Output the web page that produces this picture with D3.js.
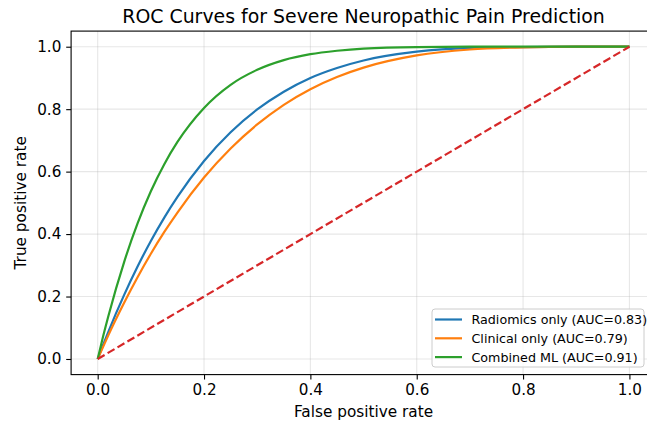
<!DOCTYPE html>
<html>
<head>
<meta charset="utf-8">
<script src="https://cdn.jsdelivr.net/npm/d3@7"></script>
<style>
  body { margin: 0; background: #fff; }
  svg { display: block; font-family: "DejaVu Sans", sans-serif; }
</style>
</head>
<body>
<div id="chart"></div>
<script>
// Width and height
var w = 647;
var h = 427;

// chart data
var fpr = [0, 0.01, 0.02, 0.05, 0.075, 0.1, 0.125, 0.15, 0.2, 0.25, 0.3, 0.35, 0.4, 0.45, 0.5, 0.6, 0.7, 0.8, 0.9, 1.0];
var tprRadiomics = [0, 0.044, 0.087, 0.206, 0.296, 0.378, 0.452, 0.519, 0.634, 0.726, 0.799, 0.856, 0.900, 0.932, 0.956, 0.984, 0.996, 0.999, 1.0, 1.0];
var tprClinical  = [0, 0.038, 0.076, 0.181, 0.262, 0.337, 0.406, 0.469, 0.581, 0.674, 0.751, 0.814, 0.864, 0.903, 0.933, 0.972, 0.991, 0.998, 1.0, 1.0];
var tprCombined  = [0, 0.071, 0.137, 0.312, 0.434, 0.537, 0.623, 0.695, 0.804, 0.878, 0.926, 0.957, 0.976, 0.987, 0.994, 0.999, 1.0, 1.0, 1.0, 1.0];
var chanceLine = [[0, 0], [1, 1]];

var seriesNames = ["Radiomics only (AUC=0.83)", "Clinical only (AUC=0.79)", "Combined ML (AUC=0.91)"];
var seriesColors = ["#1f77b4", "#ff7f0e", "#2ca02c"];
var ticks = [0, 0.2, 0.4, 0.6, 0.8, 1.0];

var titleText = "ROC Curves for Severe Neuropathic Pain Prediction";
var xLabel = "False positive rate";
var yLabel = "True positive rate";

// axes box (right edge runs off the canvas, like the reference)
var margin = {left: 71.1, top: 31.1, right: 656, bottom: 374.6};

var x = d3.scaleLinear().domain([-0.05, 1.05]).range([margin.left, margin.right]);
var y = d3.scaleLinear().domain([-0.05, 1.05]).range([margin.bottom, margin.top]);

var svg = d3.select("#chart")
  .append("svg")
  .attr("width", w)
  .attr("height", h);

// grid
svg.selectAll(".xgrid")
  .data(ticks)
  .enter()
  .append("line")
  .attr("x1", function(d) { return x(d); })
  .attr("x2", function(d) { return x(d); })
  .attr("y1", margin.top)
  .attr("y2", margin.bottom)
  .attr("stroke", "#b0b0b0")
  .attr("stroke-opacity", 0.3)
  .attr("stroke-width", 1.1);

svg.selectAll(".ygrid")
  .data(ticks)
  .enter()
  .append("line")
  .attr("x1", margin.left)
  .attr("x2", margin.right)
  .attr("y1", function(d) { return y(d); })
  .attr("y2", function(d) { return y(d); })
  .attr("stroke", "#b0b0b0")
  .attr("stroke-opacity", 0.3)
  .attr("stroke-width", 1.1);

// curves
var line = d3.line()
  .x(function(d) { return x(d[0]); })
  .y(function(d) { return y(d[1]); })
  .curve(d3.curveMonotoneX);

var series = [tprRadiomics, tprClinical, tprCombined].map(function(tpr) {
  return fpr.map(function(f, i) { return [f, tpr[i]]; });
});

svg.selectAll(".roc")
  .data(series)
  .enter()
  .append("path")
  .attr("class", "roc")
  .attr("d", line)
  .attr("fill", "none")
  .attr("stroke", function(d, i) { return seriesColors[i]; })
  .attr("stroke-width", 2.2);

// chance diagonal
svg.append("path")
  .datum(chanceLine)
  .attr("d", d3.line().x(function(d) { return x(d[0]); }).y(function(d) { return y(d[1]); }))
  .attr("fill", "none")
  .attr("stroke", "#d62728")
  .attr("stroke-width", 2.2)
  .attr("stroke-dasharray", "8,3.5");

// axes
var xAxis = d3.axisBottom(x).tickValues(ticks).tickFormat(d3.format(".1f")).tickSize(4.9).tickPadding(4.9);
var yAxis = d3.axisLeft(y).tickValues(ticks).tickFormat(d3.format(".1f")).tickSize(4.9).tickPadding(4.9);

var gx = svg.append("g")
  .attr("transform", "translate(0," + margin.bottom + ")")
  .call(xAxis);
var gy = svg.append("g")
  .attr("transform", "translate(" + margin.left + ",0)")
  .call(yAxis);

[gx, gy].forEach(function(g) {
  g.select(".domain").remove();
  g.selectAll(".tick line").attr("stroke", "#000").attr("stroke-width", 1.1);
  g.selectAll(".tick text")
    .attr("fill", "#000")
    .attr("font-size", "15.2px")
    .attr("font-family", "DejaVu Sans, sans-serif");
});

// spines
svg.append("rect")
  .attr("x", margin.left)
  .attr("y", margin.top)
  .attr("width", margin.right - margin.left)
  .attr("height", margin.bottom - margin.top)
  .attr("fill", "none")
  .attr("stroke", "#000")
  .attr("stroke-width", 1.1);

// labels
svg.append("text")
  .attr("x", (margin.left + margin.right) / 2)
  .attr("y", 22.5)
  .attr("text-anchor", "middle")
  .attr("font-size", "18.9px")
  .text(titleText);

svg.append("text")
  .attr("x", (margin.left + margin.right) / 2)
  .attr("y", 417)
  .attr("text-anchor", "middle")
  .attr("font-size", "15.3px")
  .text(xLabel);

svg.append("text")
  .attr("transform", "translate(26," + (margin.top + margin.bottom) / 2 + ") rotate(-90)")
  .attr("text-anchor", "middle")
  .attr("font-size", "15.3px")
  .text(yLabel);

// legend
var legend = svg.append("g")
  .attr("class", "legend")
  .attr("transform", "translate(432,309)");

legend.append("rect")
  .attr("x", 0)
  .attr("y", 0)
  .attr("width", 212)
  .attr("height", 58)
  .attr("rx", 3)
  .attr("fill", "#fff")
  .attr("fill-opacity", 0.8)
  .attr("stroke", "#cccccc")
  .attr("stroke-width", 1);

var rows = legend.selectAll(".row")
  .data(seriesNames)
  .enter()
  .append("g")
  .attr("transform", function(d, i) { return "translate(0," + (10.5 + i * 18.8) + ")"; });

rows.append("line")
  .attr("x1", 3)
  .attr("x2", 30)
  .attr("y1", 0)
  .attr("y2", 0)
  .attr("stroke", function(d, i) { return seriesColors[i]; })
  .attr("stroke-width", 2.2);

rows.append("text")
  .attr("x", 39.5)
  .attr("y", 0)
  .attr("dy", "0.35em")
  .attr("font-size", "12.7px")
  .text(function(d) { return d; });
</script>
</body>
</html>
